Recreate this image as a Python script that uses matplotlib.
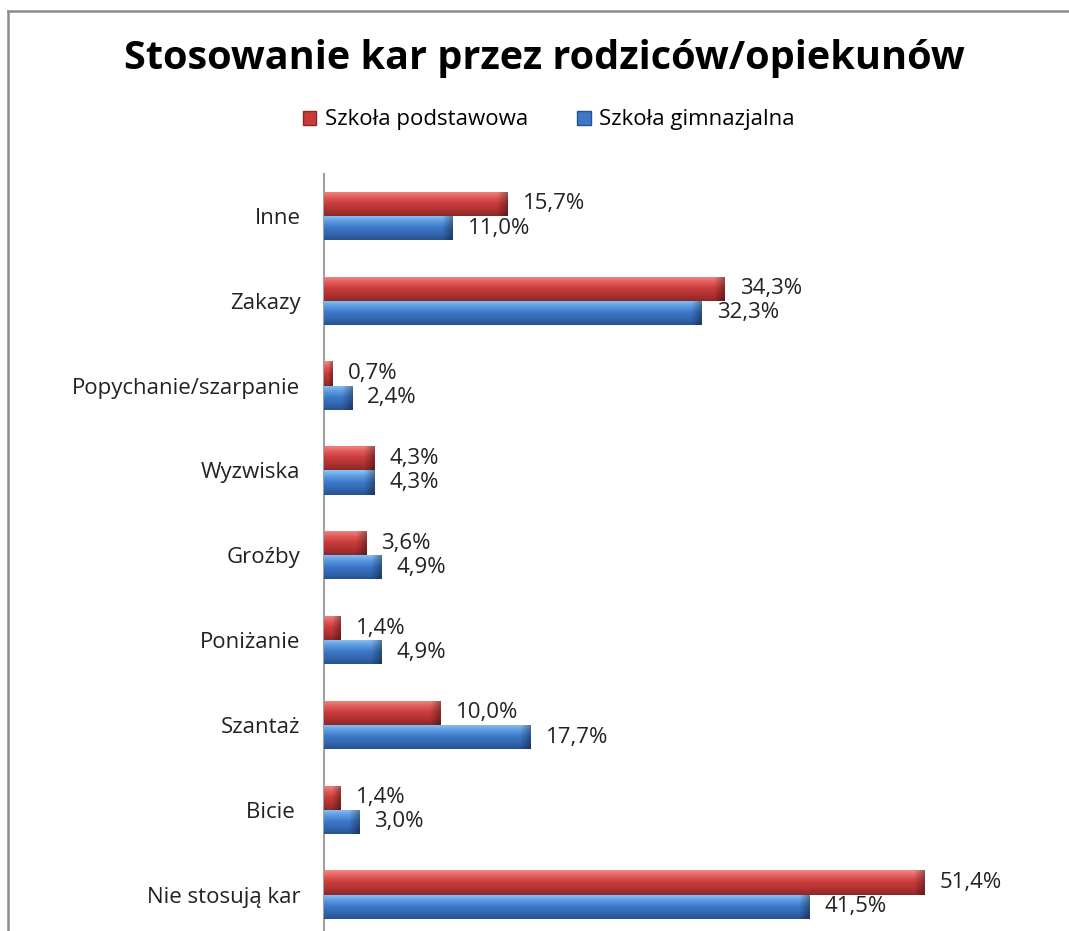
import numpy as np
import matplotlib
matplotlib.use("Agg")
import matplotlib.pyplot as plt
from matplotlib.patches import Patch
from matplotlib.colors import to_rgba
from matplotlib.lines import Line2D

categories = ["Nie stosują kar", "Bicie ", "Szantaż", "Poniżanie", "Groźby",
              "Wyzwiska", "Popychanie/szarpanie", "Zakazy", "Inne"]
podstawowa = [51.4, 1.4, 10.0, 1.4, 3.6, 4.3, 0.7, 34.3, 15.7]
gimnazjalna = [41.5, 3.0, 17.7, 4.9, 4.9, 4.3, 2.4, 32.3, 11.0]
series_names = ["Szkoła podstawowa", "Szkoła gimnazjalna"]
title = "Stosowanie kar przez rodziców/opiekunów"

plt.rcParams['font.family'] = ['Open Sans', 'DejaVu Sans']

W, H = 1069, 931
fig = plt.figure(figsize=(W / 100, H / 100), dpi=100)

ax_left, ax_right = 324, 324 + 60 * 11.69
ax_top, ax_bot = 173.6, 937
ax = fig.add_axes([ax_left / W, (H - ax_bot) / H, (ax_right - ax_left) / W, (ax_bot - ax_top) / H])

y = np.arange(len(categories))
bh = 0.285
red_grad = ["#F08A86", "#E05A57", "#C83B3B", "#B03232", "#8A2828"]
blue_grad = ["#8CC4F8", "#5C9AE0", "#3B78C8", "#3467B0", "#28528E"]
FS = 16


def grad_bars(ys, vals, cols):
    bars = ax.barh(ys, vals, height=bh, color=cols[2], edgecolor='none', zorder=2)
    n = 64
    stops = np.linspace(0, 1, len(cols))
    rgba = np.array([to_rgba(c) for c in cols])
    t = np.linspace(0, 1, n)
    arr = np.stack([np.interp(t, stops, rgba[:, k]) for k in range(4)], axis=1)
    img = arr[:, None, :]
    for b in bars:
        x0, y0 = b.get_x(), b.get_y()
        w, h = b.get_width(), b.get_height()
        im = ax.imshow(img, extent=(x0, x0 + w, y0, y0 + h), aspect='auto',
                       origin='upper', zorder=3, interpolation='bilinear')
        im.set_clip_path(b)
        cw = min(0.9, w * 0.5)
        cap = np.zeros((1, 16, 4))
        cap[..., 3] = np.linspace(0, 0.35, 16)
        im2 = ax.imshow(cap, extent=(x0 + w - cw, x0 + w, y0, y0 + h), aspect='auto',
                        zorder=4, interpolation='bilinear')
        im2.set_clip_path(b)
    return bars


grad_bars(y + bh / 2, podstawowa, red_grad)
grad_bars(y - bh / 2, gimnazjalna, blue_grad)

for yi, v in zip(y, podstawowa):
    ax.text(v + 1.3, yi + bh / 2, f"{v:.1f}%".replace('.', ','), va='center', ha='left',
            fontsize=FS, color='#222222')
for yi, v in zip(y, gimnazjalna):
    ax.text(v + 1.3, yi - bh / 2, f"{v:.1f}%".replace('.', ','), va='center', ha='left',
            fontsize=FS, color='#222222')

ax.set_xlim(0, 60)
ax.set_ylim(-0.5, len(categories) - 0.5)
ax.set_yticks(y)
ax.set_yticklabels(categories, fontsize=FS, color='#222222')
ax.tick_params(axis='y', length=0, pad=17)
ax.set_xticks([])
for s in ['top', 'right', 'bottom']:
    ax.spines[s].set_visible(False)
ax.spines['left'].set_color('#A0A0A0')
ax.spines['left'].set_linewidth(1.5)
ax.patch.set_alpha(0)

fig.text(544.5 / W, 1 - 58 / H, title, ha='center', va='center', fontsize=28.5,
         fontweight='bold', color='black')

handles = [Patch(facecolor='#C83B3B', edgecolor='#8A2828'),
           Patch(facecolor='#3B78C8', edgecolor='#28528E')]
fig.legend(handles, series_names, loc='center', bbox_to_anchor=(549 / W, 1 - 120 / H),
           ncol=2, frameon=False, fontsize=FS, handlelength=0.6, handleheight=0.6,
           handletextpad=0.4, columnspacing=2.2)

fig.add_artist(Line2D([8 / W, 1], [1 - 11 / H, 1 - 11 / H], transform=fig.transFigure,
                      color='#8C8C8C', lw=1.8))
fig.add_artist(Line2D([8 / W, 8 / W], [1 - 11 / H, 0], transform=fig.transFigure,
                      color='#8C8C8C', lw=1.8))

fig.savefig("out.png", dpi=100)
